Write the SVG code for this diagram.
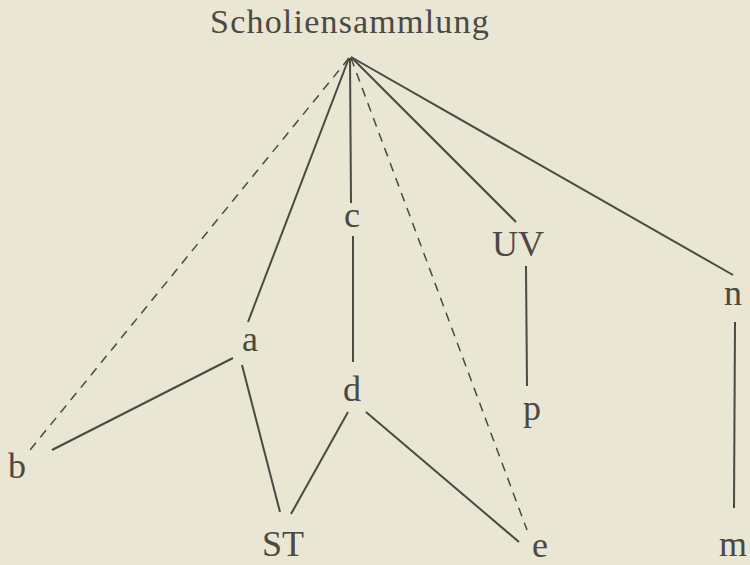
<svg xmlns="http://www.w3.org/2000/svg" width="750" height="565" viewBox="0 0 750 565">
<style>
text{font-family:"Liberation Serif","DejaVu Serif",serif;fill:#4a4943;text-anchor:middle;font-size:36px}
.t{font-size:34px;letter-spacing:1.2px}
line{stroke:#4a4943;stroke-width:2;fill:none}
.d{stroke-dasharray:9 7;stroke-width:1.5}
</style>
<rect width="750" height="565" fill="#e9e6d3"/>
<g id="connectors">
<line class="d" x1="349" y1="58" x2="30" y2="450"/>
<line x1="349" y1="58" x2="248" y2="322"/>
<line x1="350" y1="58" x2="351" y2="203"/>
<line class="d" x1="351" y1="58" x2="527" y2="530"/>
<line x1="351" y1="57" x2="516" y2="222"/>
<line x1="351" y1="57" x2="733" y2="275"/>
<line x1="353" y1="236" x2="353" y2="362"/>
<line x1="233" y1="358" x2="52" y2="450"/>
<line x1="242" y1="365" x2="280" y2="512"/>
<line x1="348" y1="412" x2="291" y2="514"/>
<line x1="366" y1="412" x2="519" y2="542"/>
<line x1="526" y1="266" x2="527" y2="386"/>
<line x1="735" y1="322" x2="734" y2="508"/>
</g>
<g id="root"><text class="t" x="350" y="33">Scholiensammlung</text></g>
<g id="c"><text x="352" y="227">c</text></g>
<g id="a"><text x="250" y="351">a</text></g>
<g id="b"><text x="17" y="478">b</text></g>
<g id="d"><text x="352" y="401">d</text></g>
<g id="ST"><text x="283" y="556">ST</text></g>
<g id="e"><text x="540" y="557">e</text></g>
<g id="UV"><text x="518" y="256">UV</text></g>
<g id="p"><text x="532" y="420">p</text></g>
<g id="n"><text x="733" y="305">n</text></g>
<g id="m"><text x="733" y="556">m</text></g>
</svg>
